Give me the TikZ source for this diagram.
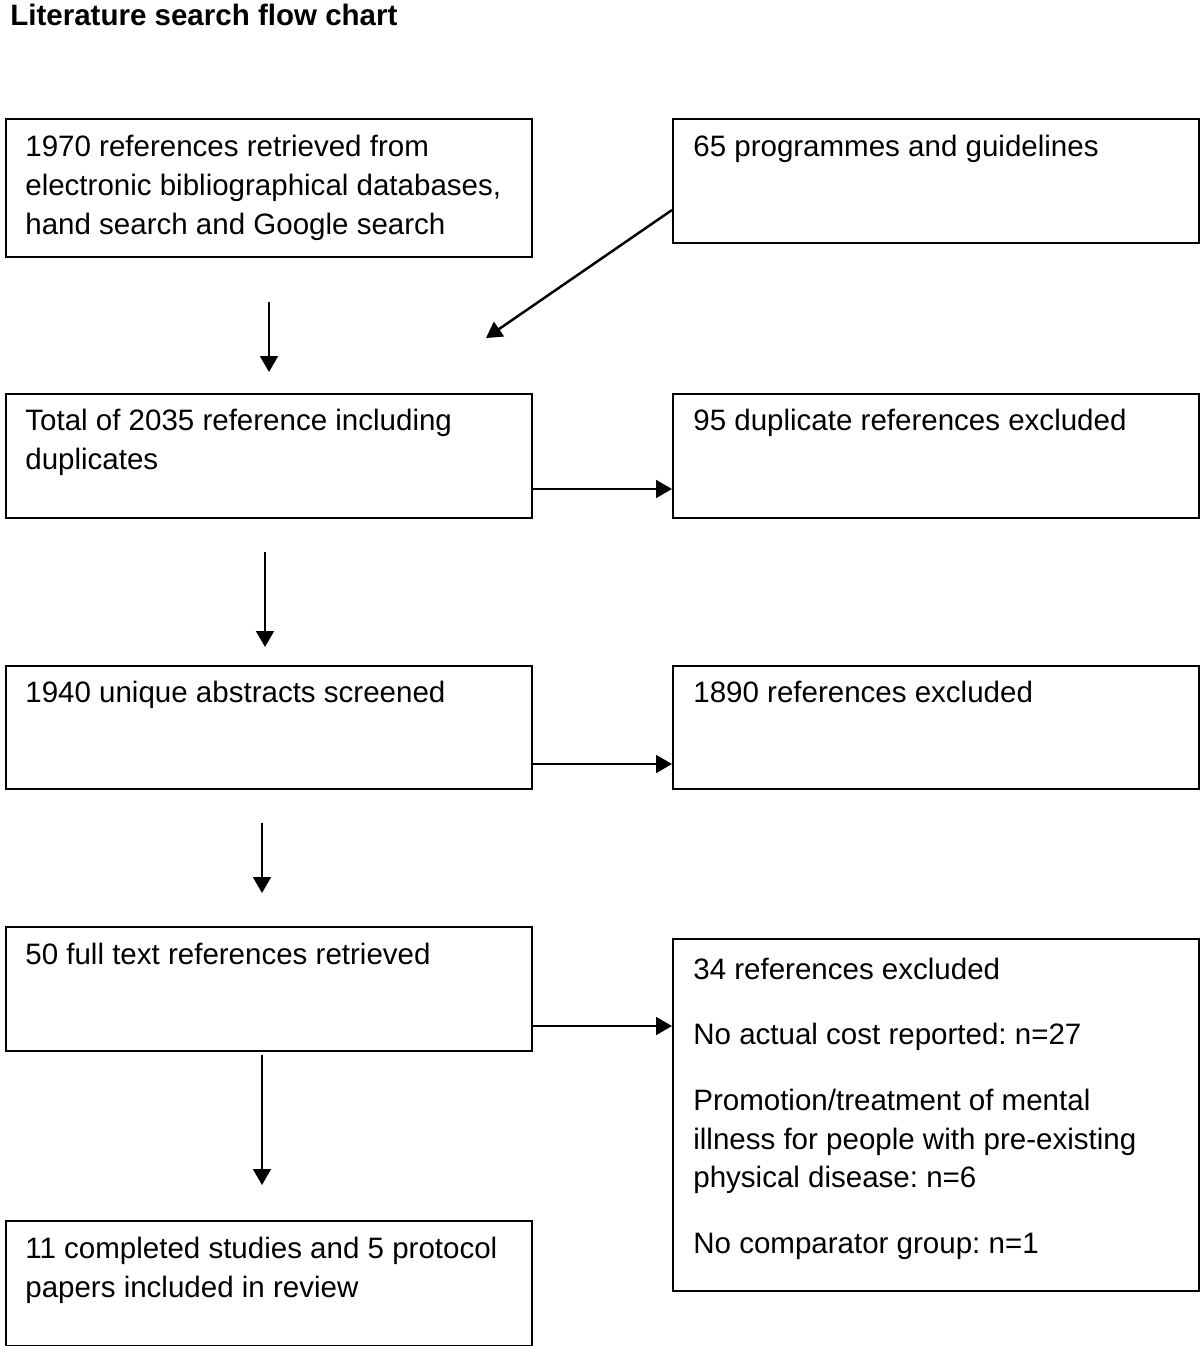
\documentclass[tikz,border=0pt]{standalone}
\usepackage{fontspec}
\setmainfont{Liberation Sans}
\usetikzlibrary{arrows.meta}
\frenchspacing

\begin{document}
\begin{tikzpicture}[x=0.02cm,y=-0.02cm,
  box/.style={draw,line width=1.4pt,anchor=north west,inner sep=0pt,minimum width=10.52cm},
  txt/.style={anchor=base west,align=left,inner sep=0pt,font=\fontsize{16.8}{22.1}\selectfont},
  arr/.style={line width=1.4pt,-{Triangle[length=9pt,width=10pt]}}]
\useasboundingbox (0,0) rectangle (1200,1346);
\node[anchor=base west,inner sep=0pt,font=\fontsize{16.8}{20}\selectfont\bfseries] (title) at (10,25) {Literature search flow chart};
% left column
\node[box,minimum height=2.76cm] (b1) at (5,118) {};
\node[box,minimum height=2.48cm] (b3) at (5,393) {};
\node[box,minimum height=2.46cm] (b5) at (5,665) {};
\node[box,minimum height=2.48cm] (b7) at (5,926) {};
\node[box,minimum height=2.5cm] (b9) at (5,1220) {};
% right column
\node[box,minimum height=2.48cm] (b2) at (672,118) {};
\node[box,minimum height=2.48cm] (b4) at (672,393) {};
\node[box,minimum height=2.46cm] (b6) at (672,665) {};
\node[box,minimum height=7.04cm] (b8) at (672,938) {};
% texts (placed at the baseline of their last line)
\node[txt] (t1) at (25,234) {1970 references retrieved from\\electronic bibliographical databases,\\hand search and Google search};
\node[txt] (t2) at (693,156) {65 programmes and guidelines};
\node[txt] (t3) at (25,469) {Total of 2035 reference including\\duplicates};
\node[txt] (t4) at (693,430) {95 duplicate references excluded};
\node[txt] (t5) at (25,702) {1940 unique abstracts screened};
\node[txt] (t6) at (693,702) {1890 references excluded};
\node[txt] (t7) at (25,964) {50 full text references retrieved};
\node[txt] (t8) at (693,1253) {34 references excluded\\[15pt]No actual cost reported: n=27\\[15pt]Promotion/treatment of mental\\illness for people with pre-existing\\physical disease: n=6\\[15pt]No comparator group: n=1};
\node[txt] (t9) at (25,1297) {11 completed studies and 5 protocol\\papers included in review};
% arrows
\coordinate (s1) at (269,302);
\coordinate (e1) at (269,372);
\coordinate (s2) at (265,552);
\coordinate (e2) at (265,647);
\coordinate (s3) at (262,823);
\coordinate (e3) at (262,893);
\coordinate (s4) at (262,1055);
\coordinate (e4) at (262,1185);
\coordinate (m1) at (486,338);
\draw[arr] (s1) -- (e1);
\draw[arr] (s2) -- (e2);
\draw[arr] (s3) -- (e3);
\draw[arr] (s4) -- (e4);
\draw[arr] (b2.west |- 0,210) -- (m1);
\draw[arr] (b3.east |- 0,489) -- (b4.west |- 0,489);
\draw[arr] (b5.east |- 0,764) -- (b6.west |- 0,764);
\draw[arr] (b7.east |- 0,1026) -- (b8.west |- 0,1026);
\end{tikzpicture}
\end{document}
